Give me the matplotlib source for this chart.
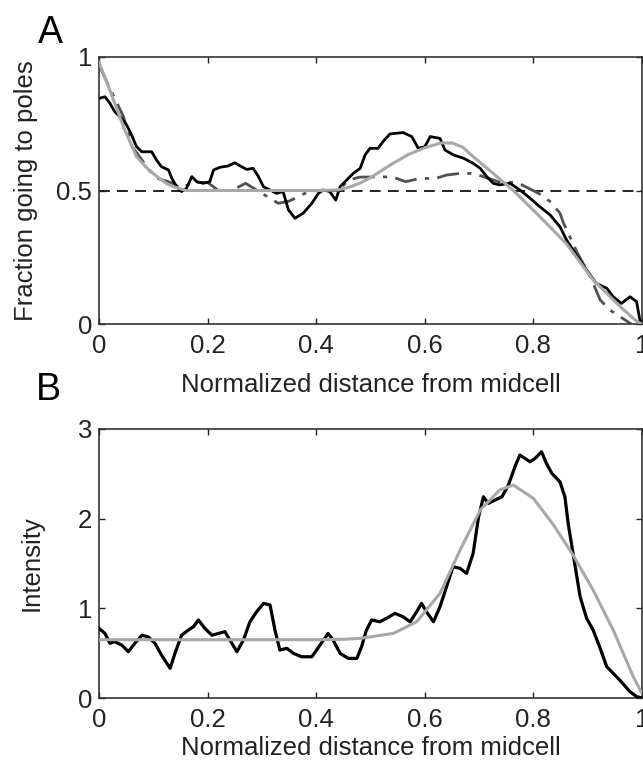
import matplotlib
matplotlib.use("Agg")
import matplotlib.pyplot as plt

plt.rcParams['font.family'] = ['Liberation Sans', 'DejaVu Sans']

# ---------------- Panel A data ----------------
a_data_x = [0, 0.011, 0.02, 0.029, 0.042, 0.051, 0.060, 0.069, 0.079, 0.097, 0.106, 0.115,
            0.128, 0.134, 0.143, 0.152, 0.161, 0.171, 0.180, 0.192, 0.204, 0.211, 0.223,
            0.238, 0.250, 0.260, 0.272, 0.284, 0.293, 0.303, 0.315, 0.327, 0.339, 0.349,
            0.361, 0.376, 0.392, 0.404, 0.413, 0.425, 0.436, 0.444, 0.456, 0.468, 0.481,
            0.490, 0.499, 0.514, 0.523, 0.536, 0.560, 0.576, 0.588, 0.600, 0.610, 0.628,
            0.637, 0.653, 0.671, 0.689, 0.702, 0.714, 0.726, 0.738, 0.757, 0.775, 0.794,
            0.812, 0.831, 0.849, 0.861, 0.879, 0.898, 0.916, 0.935, 0.947, 0.962, 0.978,
            0.990, 0.996, 1.0]
a_data_y = [0.845, 0.851, 0.827, 0.795, 0.770, 0.745, 0.708, 0.664, 0.645, 0.645, 0.614, 0.589,
            0.577, 0.546, 0.514, 0.496, 0.508, 0.552, 0.533, 0.527, 0.533, 0.577, 0.587,
            0.592, 0.604, 0.592, 0.579, 0.583, 0.554, 0.514, 0.502, 0.489, 0.496, 0.427,
            0.396, 0.415, 0.452, 0.489, 0.502, 0.496, 0.464, 0.514, 0.539, 0.564, 0.583,
            0.633, 0.658, 0.658, 0.683, 0.712, 0.717, 0.702, 0.658, 0.664, 0.702, 0.695,
            0.652, 0.633, 0.621, 0.602, 0.583, 0.552, 0.527, 0.521, 0.527, 0.502, 0.471,
            0.439, 0.408, 0.364, 0.315, 0.258, 0.202, 0.152, 0.134, 0.102, 0.077, 0.102,
            0.084, 0.015, 0.0]

a_model_x = [0, 0.02, 0.045, 0.061, 0.077, 0.092, 0.107, 0.132, 0.15, 0.175, 0.2, 0.22,
             0.245, 0.27, 0.31, 0.33, 0.35, 0.37, 0.39, 0.42, 0.44, 0.46, 0.48, 0.51, 0.54,
             0.565, 0.59, 0.62, 0.64, 0.665, 0.69, 0.74, 0.77, 0.81, 0.83, 0.849, 0.855,
             0.88, 0.905, 0.923, 0.941, 0.96, 0.98]
a_model_y = [0.97, 0.883, 0.777, 0.664, 0.62, 0.577, 0.546, 0.53, 0.51, 0.53, 0.53, 0.5,
             0.5, 0.527, 0.477, 0.452, 0.46, 0.48, 0.5, 0.5, 0.5, 0.539, 0.55, 0.551, 0.551,
             0.533, 0.545, 0.545, 0.558, 0.564, 0.564, 0.53, 0.53, 0.489, 0.46, 0.415, 0.38,
             0.27, 0.177, 0.09, 0.052, 0.027, 0.0]

a_fit_x = [0, 0.02, 0.045, 0.069, 0.09, 0.107, 0.125, 0.138, 0.16, 0.2, 0.3, 0.4, 0.44,
           0.46, 0.48, 0.5, 0.54, 0.57, 0.6, 0.63, 0.65, 0.67, 0.689, 0.726, 0.763, 0.812,
           0.861, 0.91, 0.96, 0.99, 1.0]
a_fit_y = [0.98, 0.876, 0.739, 0.627, 0.58, 0.552, 0.525, 0.514, 0.5, 0.5, 0.5, 0.5, 0.502,
           0.512, 0.527, 0.548, 0.6, 0.635, 0.66, 0.678, 0.678, 0.662, 0.627, 0.564, 0.5,
           0.402, 0.30, 0.165, 0.065, 0.01, 0.0]

a_ref_level = 0.5

# ---------------- Panel B data ----------------
b_data_x = [0, 0.011, 0.02, 0.029, 0.042, 0.054, 0.066, 0.079, 0.091, 0.103, 0.115, 0.131,
            0.140, 0.152, 0.165, 0.174, 0.183, 0.195, 0.208, 0.220, 0.232, 0.241, 0.254,
            0.266, 0.278, 0.290, 0.303, 0.315, 0.324, 0.333, 0.346, 0.358, 0.373, 0.392,
            0.407, 0.422, 0.431, 0.444, 0.459, 0.475, 0.484, 0.492, 0.502, 0.517, 0.530,
            0.545, 0.560, 0.573, 0.585, 0.594, 0.603, 0.616, 0.628, 0.640, 0.652, 0.665,
            0.677, 0.689, 0.699, 0.708, 0.717, 0.729, 0.742, 0.754, 0.766, 0.775, 0.794,
            0.803, 0.815, 0.824, 0.834, 0.849, 0.858, 0.864, 0.870, 0.877, 0.886, 0.898,
            0.910, 0.923, 0.935, 0.947, 0.959, 0.978, 0.990, 1.0]
b_data_y = [0.777, 0.72, 0.61, 0.628, 0.59, 0.516, 0.61, 0.70, 0.68, 0.61, 0.48, 0.33,
            0.50, 0.70, 0.76, 0.795, 0.87, 0.777, 0.70, 0.72, 0.74, 0.647, 0.516,
            0.647, 0.85, 0.96, 1.055, 1.037, 0.758, 0.535, 0.554, 0.498, 0.46, 0.46,
            0.59, 0.72, 0.647, 0.498, 0.442, 0.442, 0.58, 0.75, 0.87, 0.85, 0.89,
            0.944, 0.906, 0.85, 0.962, 1.055, 0.962, 0.85, 1.018, 1.24, 1.464, 1.446,
            1.39, 1.613, 2.02, 2.244, 2.17, 2.207, 2.244, 2.375, 2.579, 2.709, 2.634,
            2.672, 2.746, 2.616, 2.505, 2.41, 2.244, 1.948, 1.725, 1.464, 1.13, 0.889,
            0.758, 0.554, 0.349, 0.275, 0.2, 0.07, 0.015, 0.0]

b_fit_x = [0, 0.1, 0.2, 0.3, 0.4, 0.45, 0.481, 0.542, 0.585, 0.628, 0.665, 0.702, 0.738,
           0.763, 0.8, 0.837, 0.873, 0.91, 0.947, 0.984, 1.0]
b_fit_y = [0.65, 0.65, 0.65, 0.65, 0.65, 0.655, 0.665, 0.72, 0.85, 1.167, 1.65, 2.096, 2.32,
           2.375, 2.226, 1.93, 1.594, 1.204, 0.758, 0.237, 0.05]

x_ticks = [0, 0.2, 0.4, 0.6, 0.8, 1]
x_ticklabels = ["0", "0.2", "0.4", "0.6", "0.8", "1"]
a_yticks = [0, 0.5, 1]
a_yticklabels = ["0", "0.5", "1"]
b_yticks = [0, 1, 2, 3]
b_yticklabels = ["0", "1", "2", "3"]
xlabel_text = "Normalized distance from midcell"
a_ylabel = "Fraction going to poles"
b_ylabel = "Intensity"

FS = 18.5
W, H = 643, 765
fig = plt.figure(figsize=(W / 100, H / 100), dpi=100)

def px_axes(x0, y0, x1, y1):
    return fig.add_axes([x0 / W, 1 - y1 / H, (x1 - x0) / W, (y1 - y0) / H])

axA = px_axes(99, 57, 642, 324)
axB = px_axes(99, 429, 642, 698)

BLACK = '#000000'
LIGHT = '#a8a8a8'
DARK = '#505050'

axA.axhline(a_ref_level, color='#111111', lw=1.3, ls=(0, (6, 4)), zorder=1)
axA.plot(a_model_x, a_model_y, color=DARK, lw=2.0, ls=(0, (8, 3, 1.5, 3)), zorder=2)
axA.plot(a_data_x, a_data_y, color=BLACK, lw=2.0, zorder=3)
axA.plot(a_fit_x, a_fit_y, color=LIGHT, lw=2.2, zorder=4)

axB.plot(b_data_x, b_data_y, color=BLACK, lw=2.3, zorder=3)
axB.plot(b_fit_x, b_fit_y, color=LIGHT, lw=2.2, zorder=4)

for ax, yt, ytl, ylim, ylab in [(axA, a_yticks, a_yticklabels, (0, 1), a_ylabel),
                                 (axB, b_yticks, b_yticklabels, (0, 3), b_ylabel)]:
    ax.set_xlim(0, 1)
    ax.set_ylim(*ylim)
    ax.set_xticks(x_ticks)
    ax.set_xticklabels(x_ticklabels)
    ax.set_yticks(yt)
    ax.set_yticklabels(ytl)
    ax.tick_params(direction='in', length=4, width=1, colors='#222222',
                   top=True, right=True, labelsize=FS, pad=5)
    ax.tick_params(axis='x', pad=7)
    for s in ax.spines.values():
        s.set_linewidth(1.2)
        s.set_color('#333333')
    ax.set_xlabel(xlabel_text, fontsize=FS, color='#222222')
    ax.set_ylabel(ylab, fontsize=FS, color='#222222')
    for lbl in ax.get_xticklabels() + ax.get_yticklabels():
        lbl.set_color('#222222')

axA.xaxis.set_label_coords(0.5, -0.185)
axB.xaxis.set_label_coords(0.5, -0.14)
# ylabel anchor is the text's baseline side (right edge on screen)
axA.yaxis.set_label_coords(-0.112, 0.5)
axB.yaxis.set_label_coords(-0.102, 0.5)

fig.text(50 / W, 1 - 33 / H, "A", fontsize=27, ha='center', va='center')
fig.text(48 / W, 1 - 390 / H, "B", fontsize=27, ha='center', va='center')

fig.savefig("out.png", dpi=100)
